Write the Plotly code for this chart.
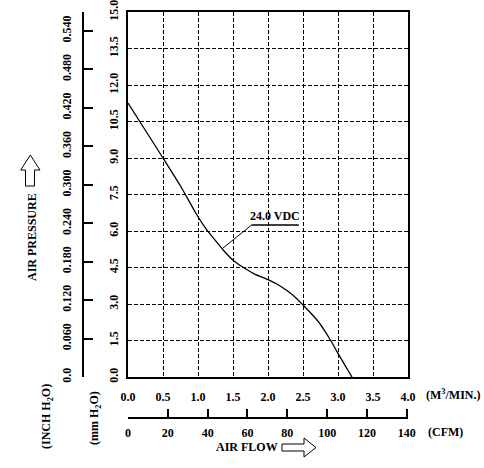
import plotly.graph_objects as go

# ---- data ----
flow_m3min = [0.0, 0.25, 0.5, 0.75, 0.97, 1.1, 1.2, 1.3, 1.36, 1.5, 1.65, 1.81, 2.0, 2.15, 2.29, 2.4, 2.51, 2.62, 2.72, 2.81, 2.9, 3.0, 3.1, 3.2]
pressure_mm = [11.26, 10.13, 9.0, 7.85, 6.73, 6.15, 5.78, 5.43, 5.22, 4.8, 4.5, 4.23, 4.0, 3.78, 3.51, 3.25, 2.93, 2.6, 2.27, 1.9, 1.48, 0.97, 0.48, 0.0]

x_ticks = [0.0, 0.5, 1.0, 1.5, 2.0, 2.5, 3.0, 3.5, 4.0]
x_ticktext = ["0.0", "0.5", "1.0", "1.5", "2.0", "2.5", "3.0", "3.5", "4.0"]
y_ticks = [0.0, 1.5, 3.0, 4.5, 6.0, 7.5, 9.0, 10.5, 12.0, 13.5, 15.0]
y_ticktext = ["0.0", "1.5", "3.0", "4.5", "6.0", "7.5", "9.0", "10.5", "12.0", "13.5", "15.0"]
inch_ticks = [0.0, 0.06, 0.12, 0.18, 0.24, 0.30, 0.36, 0.42, 0.48, 0.54]
inch_ticktext = ["0.0", "0.060", "0.120", "0.180", "0.240", "0.300", "0.360", "0.420", "0.480", "0.540"]
cfm_ticks = [0, 20, 40, 60, 80, 100, 120, 140]
cfm_ticktext = ["0", "20", "40", "60", "80", "100", "120", "140"]
curve_label = "24.0 VDC"

W, H = 484, 468
def px(x):
    return x / W
def py(y):
    return 1 - y / H

FONT = dict(family="Liberation Serif", size=12, color="black", weight="bold")
dom_x = [px(128), px(408)]
dom_y = [py(377), py(12)]

fig = go.Figure()
fig.add_trace(go.Scatter(x=flow_m3min, y=pressure_mm, mode="lines",
                         line=dict(color="black", width=1.3, shape="spline", smoothing=0.5),
                         hoverinfo="skip", showlegend=False))

grid = dict(showgrid=True, gridcolor="black", gridwidth=1, griddash="4px,2px",
            zeroline=False, showline=True, linecolor="black", linewidth=1.5, mirror=True)

fig.update_layout(
    width=W, height=H, margin=dict(l=0, r=0, t=0, b=0),
    paper_bgcolor="white", plot_bgcolor="white", showlegend=False,
    font=FONT,
    xaxis=dict(domain=dom_x, range=[0, 4], tickvals=x_ticks, ticktext=x_ticktext,
               ticks="", ticklabelstandoff=8, tickfont=FONT, automargin=False,
               ticklabeloverflow="allow", **grid),
    yaxis=dict(domain=dom_y, range=[0, 15], tickvals=y_ticks, ticktext=y_ticktext,
               ticks="", tickangle=-90, ticklabelstandoff=3, tickfont=FONT, automargin=False,
               ticklabeloverflow="allow", **grid),
    yaxis2=dict(overlaying="y", anchor="free", position=px(83), side="left",
                range=[0, 0.5695], tickvals=inch_ticks, ticktext=inch_ticktext,
                ticks="inside", ticklen=9, tickcolor="black", tickwidth=1.5,
                showline=True, linecolor="black", linewidth=1.5, showgrid=False, zeroline=False,
                tickangle=-90, ticklabelstandoff=6, tickfont=FONT, automargin=False,
                ticklabeloverflow="allow"),
    xaxis2=dict(overlaying="x", anchor="free", position=py(418), side="bottom",
                range=[0, 140.6], tickvals=cfm_ticks, ticktext=cfm_ticktext,
                ticks="inside", ticklen=8, tickcolor="black", tickwidth=1.5,
                showline=True, linecolor="black", linewidth=1.5, showgrid=False, zeroline=False,
                ticklabelstandoff=4, tickfont=FONT, automargin=False,
                ticklabeloverflow="allow"),
)
# invisible helper so the secondary axes are drawn
fig.add_trace(go.Scatter(x=[0], y=[0], xaxis="x2", yaxis="y2", mode="markers",
                         marker=dict(opacity=0), hoverinfo="skip", showlegend=False))

# annotation leader + underline
lx0, ly0 = 1.357, 5.3
lx1, ly1 = 1.767, 6.25
lx2 = 2.44
fig.add_shape(type="line", xref="x", yref="y", x0=lx0, y0=ly0, x1=lx1, y1=ly1,
              line=dict(color="black", width=1))
fig.add_shape(type="line", xref="x", yref="y", x0=lx1, y0=ly1, x1=lx2, y1=ly1,
              line=dict(color="black", width=1.5))
fig.add_annotation(x=(lx1 + lx2) / 2, y=ly1, xref="x", yref="y", text=curve_label,
                   showarrow=False, yanchor="bottom", yshift=0, font=FONT)

# axis titles and units
def ann(x, y, text, angle=0, xanchor="center"):
    fig.add_annotation(x=px(x), y=py(y), xref="paper", yref="paper", text=text,
                       showarrow=False, textangle=angle, xanchor=xanchor, yanchor="middle",
                       font=FONT)

ann(32, 237, "AIR PRESSURE", -90)
ann(47, 417, "(INCH H<sub>2</sub>O)", -90)
ann(95, 418, "(mm H<sub>2</sub>O)", -90)
ann(424, 394, "(M<sup>3</sup>/MIN.)", 0, "left")
ann(426, 432, "(CFM)", 0, "left")
ann(247, 447, "AIR FLOW")

# outline arrows
def path(points):
    s = "M " + " L ".join(f"{px(a):.5f},{py(b):.5f}" for a, b in points) + " Z"
    return s

fig.add_shape(type="path", xref="paper", yref="paper",
              path=path([(30.3, 155), (40, 170), (34.5, 170), (34.5, 186), (25.5, 186), (25.5, 170), (20.7, 170)]),
              line=dict(color="black", width=1), fillcolor="white")
fig.add_shape(type="path", xref="paper", yref="paper",
              path=path([(282, 444), (304, 444), (304, 438), (316, 447.5), (304, 457), (304, 451), (282, 451)]),
              line=dict(color="black", width=1), fillcolor="white")

fig.write_html("out.html")
